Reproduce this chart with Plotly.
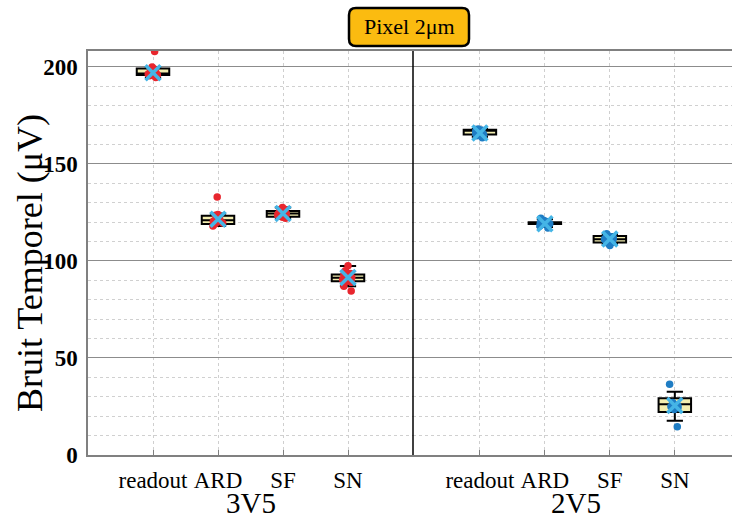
import plotly.graph_objects as go

categories = ["readout", "ARD", "SF", "SN"]
groups = ["3V5", "2V5"]

# raw measurement points (µV)
pts_3v5_readout = [194.5, 195.5, 196, 196.3, 196.8, 197, 197.2, 197.5, 198, 198.3, 199, 200, 208]
pts_3v5_ard = [118, 119, 119.5, 120, 120.5, 121, 121.5, 122, 122.5, 123, 123.5, 124, 133]
pts_3v5_sf = [122, 122.5, 123, 123.5, 124, 124.3, 124.6, 125, 125.5, 126, 126.5, 127.5]
pts_3v5_sn = [84.5, 87, 89, 89.5, 90, 90.5, 91, 91.5, 92, 93, 93.5, 95, 97.5]

pts_2v5_readout = [163.5, 164.5, 165, 165.5, 165.8, 166, 166.2, 166.5, 166.8, 167, 167.5, 168]
pts_2v5_ard = [117, 118, 118.8, 119.2, 119.4, 119.5, 119.6, 119.8, 120, 120.5, 121, 122]
pts_2v5_sf = [108, 109, 109.5, 110, 110.5, 111, 111.3, 111.6, 112, 112.5, 113, 114]
pts_2v5_sn = [14.5, 23.5, 24.5, 25, 25.5, 26, 27, 36.5]

# box statistics
q1_3v5 = [195.8, 119, 122.8, 89.5]
med_3v5 = [196.6, 121, 124.5, 91.3]
q3_3v5 = [199.2, 123.3, 125.8, 93]
lo_3v5 = [194.5, 118, 122, 87]
hi_3v5 = [200, 124.5, 127.5, 97.4]

q1_2v5 = [165.2, 119.1, 109.5, 22.2]
med_2v5 = [167.2, 119.5, 111.2, 26.1]
q3_2v5 = [167.6, 120, 112.8, 29.2]
lo_2v5 = [164, 117.5, 108.5, 17.7]
hi_2v5 = [168, 121.5, 113.8, 32.6]

# means (µV)
mean_3v5 = [197, 121.5, 124.5, 91.5]
mean_2v5 = [166, 119.2, 111.3, 25.5]

y_ticks = [0, 50, 100, 150, 200]

RED = "#e8262e"
BLUE = "#1f7dc4"
XCOL = "#45b5e6"
BOXFILL = "#f3eeb0"
SERIF = "Liberation Serif"

fig = go.Figure()

panels = [
    ("x", "y", [pts_3v5_readout, pts_3v5_ard, pts_3v5_sf, pts_3v5_sn],
     q1_3v5, med_3v5, q3_3v5, lo_3v5, hi_3v5, mean_3v5, RED),
    ("x2", "y2", [pts_2v5_readout, pts_2v5_ard, pts_2v5_sf, pts_2v5_sn],
     q1_2v5, med_2v5, q3_2v5, lo_2v5, hi_2v5, mean_2v5, BLUE),
]

for xa, ya, pts, q1, med, q3, lo, hi, means, col in panels:
    fig.add_trace(go.Box(
        x=categories, q1=q1, median=med, q3=q3, lowerfence=lo, upperfence=hi,
        boxpoints=False, fillcolor=BOXFILL, line=dict(color="black", width=2),
        whiskerwidth=0.5, width=0.5, xaxis=xa, yaxis=ya, showlegend=False,
    ))
    xs, ys = [], []
    for c, vals in zip(categories, pts):
        xs += [c] * len(vals)
        ys += vals
    fig.add_trace(go.Box(
        x=xs, y=ys, boxpoints="all", jitter=0.35, pointpos=0, width=0.5,
        fillcolor="rgba(0,0,0,0)", line=dict(color="rgba(0,0,0,0)", width=0),
        whiskerwidth=0, marker=dict(color=col, size=7.5),
        xaxis=xa, yaxis=ya, showlegend=False,
    ))
    fig.add_trace(go.Scatter(
        x=categories, y=means, mode="markers",
        marker=dict(symbol="x-thin", size=15, line=dict(color=XCOL, width=3.5)),
        xaxis=xa, yaxis=ya, showlegend=False,
    ))

# geometry in pixels
W, H = 732, 520
L, R, T, B = 88, 0, 51, 65
PW, PH = W - L - R, H - T - B
split = (413 - L) / PW


def px(x):
    return (x - L) / PW


def py(y):
    return (H - B - y) / PH


AXCOL = "#808080"
xcommon = dict(
    type="category", categoryorder="array", categoryarray=categories,
    showline=True, linecolor=AXCOL, linewidth=1.5, mirror=True,
    showgrid=True, gridcolor="#cfcfcf", griddash="dot", gridwidth=1,
    ticks="inside", ticklen=5, tickcolor=AXCOL,
    tickfont=dict(family=SERIF, size=23, color="black"),
    ticklabelstandoff=4, zeroline=False,
)
ycommon = dict(
    range=[0, 208.2], tickvals=y_ticks,
    showgrid=True, gridcolor="#8c8c8c", gridwidth=1,
    minor=dict(dtick=10, showgrid=True, gridcolor="#d0d0d0", griddash="dot", gridwidth=1),
    zeroline=False,
)

fig.update_layout(
    width=W, height=H,
    margin=dict(l=L, r=R, t=T, b=B),
    paper_bgcolor="white", plot_bgcolor="white",
    boxmode="overlay",
    xaxis=dict(domain=[0, split], range=[-1, 4], **xcommon),
    xaxis2=dict(domain=[split, 1], range=[-1.03, 3.88], anchor="y2", **xcommon),
    yaxis=dict(showline=True, linecolor=AXCOL, linewidth=1.5, ticks="",
               tickfont=dict(family=SERIF, size=23, color="black", weight="bold"),
               ticklabelstandoff=4, **ycommon),
    yaxis2=dict(anchor="x2", matches="y", showline=False, showticklabels=False, ticks="", **ycommon),
)

# divider between panels
fig.add_shape(type="line", xref="paper", yref="paper", x0=split, x1=split, y0=0, y1=1,
              line=dict(color="black", width=1.5))

# rounded title box
bx0, bx1, by0, by1, r = 349, 469, 8, 46, 7
path = (f"M {px(bx0 + r)} {py(by0)} L {px(bx1 - r)} {py(by0)} "
        f"Q {px(bx1)} {py(by0)} {px(bx1)} {py(by0 + r)} "
        f"L {px(bx1)} {py(by1 - r)} Q {px(bx1)} {py(by1)} {px(bx1 - r)} {py(by1)} "
        f"L {px(bx0 + r)} {py(by1)} Q {px(bx0)} {py(by1)} {px(bx0)} {py(by1 - r)} "
        f"L {px(bx0)} {py(by0 + r)} Q {px(bx0)} {py(by0)} {px(bx0 + r)} {py(by0)} Z")
fig.add_shape(type="path", xref="paper", yref="paper", path=path,
              fillcolor="#fbbb10", line=dict(color="black", width=2.5), layer="above")

fig.add_annotation(text="Pixel 2μm", xref="paper", yref="paper", x=px(409), y=py(27),
                   showarrow=False, xanchor="center", yanchor="middle",
                   font=dict(family=SERIF, size=22, color="black"))

fig.add_annotation(text="Bruit Temporel (μV)", xref="paper", yref="paper",
                   x=px(30), y=py(263), textangle=-90, showarrow=False,
                   xanchor="center", yanchor="middle",
                   font=dict(family=SERIF, size=36, color="black"))

for g, cx in zip(groups, [250.5, 575.5]):
    fig.add_annotation(text=g, xref="paper", yref="paper", x=px(cx), y=py(503),
                       showarrow=False, xanchor="center", yanchor="middle", borderpad=0,
                       font=dict(family=SERIF, size=29, color="black"))

fig.write_html("out.html", config={"displayModeBar": False},
               post_script="document.body.style.margin='0';document.body.style.overflow='hidden';")
